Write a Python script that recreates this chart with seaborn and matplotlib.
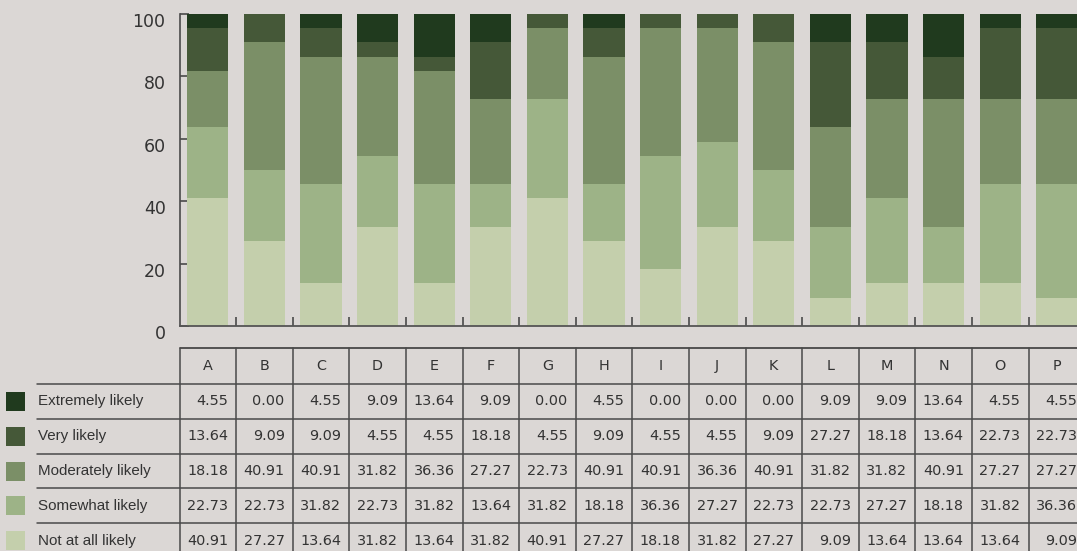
import numpy as np
import pandas as pd
import matplotlib
matplotlib.use("Agg")
import matplotlib.pyplot as plt
from matplotlib.transforms import ScaledTranslation
from matplotlib.patches import Rectangle
import seaborn as sns

# ---- data ----
categories = list("ABCDEFGHIJKLMNOP")
extremely = [4.55, 0.00, 4.55, 9.09, 13.64, 9.09, 0.00, 4.55, 0.00, 0.00, 0.00, 9.09, 9.09, 13.64, 4.55, 4.55]
very = [13.64, 9.09, 9.09, 4.55, 4.55, 18.18, 4.55, 9.09, 4.55, 4.55, 9.09, 27.27, 18.18, 13.64, 22.73, 22.73]
moderately = [18.18, 40.91, 40.91, 31.82, 36.36, 27.27, 22.73, 40.91, 40.91, 36.36, 40.91, 31.82, 31.82, 40.91, 27.27, 27.27]
somewhat = [22.73, 22.73, 31.82, 22.73, 31.82, 13.64, 31.82, 18.18, 36.36, 27.27, 22.73, 22.73, 27.27, 18.18, 31.82, 36.36]
not_at_all = [40.91, 27.27, 13.64, 31.82, 13.64, 31.82, 40.91, 27.27, 18.18, 31.82, 27.27, 9.09, 13.64, 13.64, 13.64, 9.09]

series_names = ["Extremely likely", "Very likely", "Moderately likely", "Somewhat likely", "Not at all likely"]
series_vals = [extremely, very, moderately, somewhat, not_at_all]
colors = ["#203a1e", "#455838", "#7b8f67", "#9db387", "#c4cfac"]
yticks = [0, 20, 40, 60, 80, 100]

BG = "#dbd7d5"
INK = "#333333"
LINE = "#4a4a4a"

# ---- layout (pixels) ----
W, H = 1077, 551
X0 = 179.5      # left of plot / table
SLOT = 56.6     # width of one category
Y_TOP, Y_BOT = 14, 326
TAB_TOP = 348
HEAD_H = 36
ROW_H = 34.8
n = len(categories)

sns.set_style("white")
plt.rcParams["font.family"] = ["DejaVu Sans"]

fig = plt.figure(figsize=(W / 100, H / 100), dpi=100, facecolor=BG)

ax = fig.add_axes([X0 / W, (H - Y_BOT) / H, n * SLOT / W, (Y_BOT - Y_TOP) / H])
ax.set_facecolor(BG)

# stacked bars: draw cumulative totals from the top series down
df = pd.DataFrame({name: vals for name, vals in zip(series_names, series_vals)}, index=categories)
order_bottom_up = series_names[::-1]
cum = df[order_bottom_up].cumsum(axis=1)
for name, col in zip(series_names, colors):
    sns.barplot(x=categories, y=cum[name].values, color=col, saturation=1,
                width=0.73, errorbar=None, ax=ax, zorder=2,
                edgecolor="none", linewidth=0)

ax.set_xlim(-0.5, n - 0.5)
ax.set_ylim(0, 100)
ax.set_yticks(yticks)
ax.set_xticks([])
ax.set_xticks(np.arange(n - 1) + 0.5, minor=True)
ax.set_xlabel("")
ax.set_ylabel("")
for s in ["top", "right"]:
    ax.spines[s].set_visible(False)
ax.spines["left"].set_color(LINE)
ax.spines["left"].set_linewidth(1.2)
ax.spines["bottom"].set_color("#555555")
ax.spines["bottom"].set_linewidth(1.3)
ax.tick_params(axis="y", direction="in", length=6.5, width=1.2, color=LINE,
               labelsize=12.5, labelcolor=INK, pad=10, left=True)
ax.tick_params(axis="x", which="minor", direction="in", length=6.5, width=1.2,
               color=LINE, bottom=True)
shift = ScaledTranslation(0, -6 / 100, fig.dpi_scale_trans)
for lab in ax.get_yticklabels():
    lab.set_transform(lab.get_transform() + shift)

# ---- data table below the chart ----
tab = fig.add_axes([0, 0, 1, 1], facecolor="none")
tab.set_xlim(0, W)
tab.set_ylim(H, 0)
tab.axis("off")

bx = [X0 + i * SLOT for i in range(n + 1)]
tab_bottom = TAB_TOP + HEAD_H + ROW_H * len(series_names)

tab.plot([bx[0], bx[-1]], [TAB_TOP, TAB_TOP], color="#2e2e2e", lw=1.1, clip_on=False)
for k in range(len(series_names) + 1):
    yy = TAB_TOP + HEAD_H + k * ROW_H
    tab.plot([37, bx[-1]], [yy, yy], color=LINE, lw=1.1, clip_on=False)
for x in bx:
    tab.plot([x, x], [TAB_TOP, tab_bottom], color=LINE, lw=1.1, clip_on=False)

for i, c in enumerate(categories):
    tab.text((bx[i] + bx[i + 1]) / 2, TAB_TOP + HEAD_H / 2, c, ha="center", va="center",
             fontsize=10.4, color=INK)

for k, (name, vals, col) in enumerate(zip(series_names, series_vals, colors)):
    yc = TAB_TOP + HEAD_H + (k + 0.5) * ROW_H
    tab.add_patch(Rectangle((6, yc - 9.5), 19, 19, facecolor=col, edgecolor="none"))
    tab.text(38, yc, name, ha="left", va="center", fontsize=10.9,
             family="Liberation Sans", color=INK)
    for i, v in enumerate(vals):
        tab.text(bx[i + 1] - 8, yc, f"{v:.2f}", ha="right", va="center",
                 fontsize=10.4, color=INK)

fig.savefig("out.png", dpi=100, facecolor=BG)
